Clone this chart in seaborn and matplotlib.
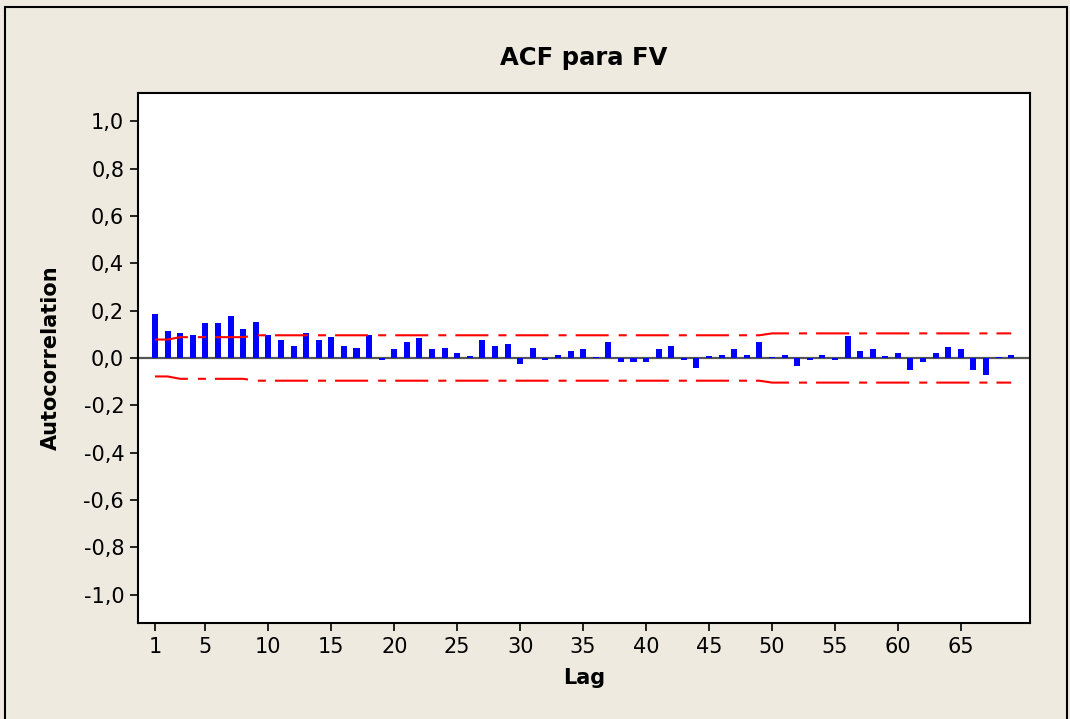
import numpy as np
import pandas as pd
import matplotlib
matplotlib.use("Agg")
import matplotlib.pyplot as plt
import seaborn as sns
from matplotlib.patches import Rectangle
from matplotlib.ticker import FuncFormatter

# ---------------- data ----------------
lags = list(range(1, 70))
acf = [0.187, 0.114, 0.107, 0.099, 0.148, 0.148, 0.179, 0.123, 0.154, 0.099,
       0.075, 0.051, 0.107, 0.075, 0.090, 0.051, 0.044, 0.099, -0.010, 0.037,
       0.068, 0.083, 0.037, 0.044, 0.020, 0.007, 0.076, 0.052, 0.061, -0.027,
       0.044, -0.010, 0.013, 0.028, 0.037, 0.006, 0.068, -0.017, -0.017, -0.017,
       0.037, 0.052, -0.010, -0.041, 0.007, 0.013, 0.037, 0.013, 0.068, 0.006,
       0.013, -0.034, -0.010, 0.013, -0.010, 0.093, 0.028, 0.037, 0.007, 0.020,
       -0.051, -0.017, 0.020, 0.045, 0.037, -0.051, -0.073, 0.006, 0.011]
upper = [0.078, 0.078, 0.088, 0.088, 0.088, 0.088, 0.088, 0.088, 0.096, 0.096,
         0.096, 0.096, 0.096, 0.096, 0.096, 0.096, 0.096, 0.096, 0.096, 0.096,
         0.096, 0.096, 0.096, 0.096, 0.096, 0.096, 0.096, 0.096, 0.096, 0.096,
         0.096, 0.096, 0.096, 0.096, 0.096, 0.096, 0.096, 0.096, 0.096, 0.096,
         0.096, 0.096, 0.096, 0.096, 0.096, 0.096, 0.096, 0.096, 0.096, 0.104,
         0.104, 0.104, 0.104, 0.104, 0.104, 0.104, 0.104, 0.104, 0.104, 0.104,
         0.104, 0.104, 0.104, 0.104, 0.104, 0.104, 0.104, 0.104, 0.104]
lower = [-0.078, -0.078, -0.088, -0.088, -0.088, -0.088, -0.088, -0.088, -0.096, -0.096,
         -0.096, -0.096, -0.096, -0.096, -0.096, -0.096, -0.096, -0.096, -0.096, -0.096,
         -0.096, -0.096, -0.096, -0.096, -0.096, -0.096, -0.096, -0.096, -0.096, -0.096,
         -0.096, -0.096, -0.096, -0.096, -0.096, -0.096, -0.096, -0.096, -0.096, -0.096,
         -0.096, -0.096, -0.096, -0.096, -0.096, -0.096, -0.096, -0.096, -0.096, -0.104,
         -0.104, -0.104, -0.104, -0.104, -0.104, -0.104, -0.104, -0.104, -0.104, -0.104,
         -0.104, -0.104, -0.104, -0.104, -0.104, -0.104, -0.104, -0.104, -0.104]
xtick_values = [1, 5, 10, 15, 20, 25, 30, 35, 40, 45, 50, 55, 60, 65]
ytick_values = [-1.0, -0.8, -0.6, -0.4, -0.2, 0.0, 0.2, 0.4, 0.6, 0.8, 1.0]

title = "ACF para FV"
xlabel = "Lag"
ylabel = "Autocorrelation"

# ---------------- style ----------------
sns.set_style("white")
plt.rcParams['font.family'] = ['DejaVu Sans']
plt.rcParams['lines.scale_dashes'] = False
plt.rcParams['text.color'] = 'black'
plt.rcParams['axes.labelcolor'] = 'black'

BG = '#EEEAE0'
fig = plt.figure(figsize=(10.7, 7.19), dpi=100, facecolor=BG)
ax = fig.add_axes([0.129, 0.1335, 0.8337, 0.7372])
ax.set_facecolor('white')

df = pd.DataFrame({'Lag': lags, 'ACF': acf})
ax.axhline(0, color='#555555', lw=1.6, zorder=1)
sns.barplot(data=df, x='Lag', y='ACF', native_scale=True, width=0.48,
            color='#0000FF', saturation=1, errorbar=None, ax=ax, zorder=3,
            linewidth=0, edgecolor='#0000FF')

for lim in (upper, lower):
    sns.lineplot(x=lags, y=lim, color='#FF0000', lw=1.5, ax=ax, zorder=4)
    ln = ax.lines[-1]
    ln.set_dashes([23.8, 7.2, 5.8, 6.5])

ax.set_xlim(-0.35, 70.5)
ax.set_ylim(-1.12, 1.12)
ax.set_xticks(xtick_values)
ax.set_xticklabels([str(v) for v in xtick_values])
ax.set_yticks(ytick_values)
ax.yaxis.set_major_formatter(FuncFormatter(lambda v, p: f"{v:.1f}".replace('.', ',')))

for s in ax.spines.values():
    s.set_visible(True)
    s.set_color('black')
    s.set_linewidth(1.5)

ax.tick_params(axis='both', which='major', direction='out', length=6, width=1.2,
               color='black', labelsize=15, labelcolor='black', pad=4,
               bottom=True, left=True, top=False, right=False)

ax.set_xlabel(xlabel, fontsize=15, fontweight='bold', labelpad=8, color='black')
ax.set_ylabel(ylabel, fontsize=15, fontweight='bold', labelpad=16, color='black')
ax.set_title(title, fontsize=17.5, fontweight='bold', pad=20, color='black')

# outer frame
fig.patches.append(Rectangle((5 / 1070, -0.01), (1067 - 5) / 1070, 1.01 - 7 / 719,
                             transform=fig.transFigure, fill=False,
                             edgecolor='black', lw=1.5))

fig.savefig('out.png', dpi=100, facecolor=BG)
